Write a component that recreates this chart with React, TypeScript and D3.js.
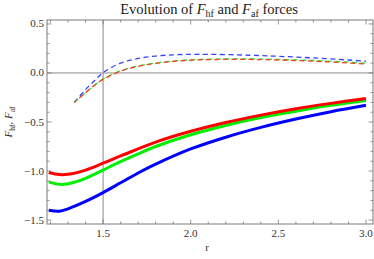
import React, { useEffect, useRef } from "react";
import * as d3 from "d3";

// r grid for the solid curves (F_hf)
const rSolid = [1.19, 1.25, 1.3, 1.4, 1.5, 1.6, 1.7, 1.8, 2.0, 2.2, 2.4, 2.6, 2.8, 3.0];
const hfRed = [-1.015, -1.036, -1.033, -0.99, -0.92, -0.845, -0.775, -0.705, -0.595, -0.505, -0.43, -0.365, -0.31, -0.26];
const hfGreen = [-1.11, -1.135, -1.13, -1.075, -0.99, -0.905, -0.825, -0.75, -0.63, -0.535, -0.455, -0.39, -0.33, -0.28];
const hfBlue = [-1.40, -1.41, -1.385, -1.31, -1.22, -1.12, -1.02, -0.93, -0.775, -0.655, -0.555, -0.47, -0.395, -0.33];

// r grid for the dashed curves (F_af)
const rDashed = [1.336, 1.4, 1.45, 1.5, 1.6, 1.7, 1.8, 1.9, 2.0, 2.1, 2.3, 2.5, 2.7, 2.9, 3.0];
const afBlue = [-0.30, -0.17, -0.08, 0.003, 0.10, 0.148, 0.172, 0.185, 0.19, 0.19, 0.183, 0.17, 0.153, 0.132, 0.12];
const afGreen = [-0.30, -0.20, -0.125, -0.062, 0.022, 0.072, 0.102, 0.122, 0.134, 0.14, 0.143, 0.138, 0.127, 0.11, 0.10];
const afRed = [-0.30, -0.20, -0.127, -0.066, 0.018, 0.068, 0.098, 0.118, 0.130, 0.136, 0.138, 0.132, 0.12, 0.102, 0.092];

const xTicks = [1.5, 2.0, 2.5, 3.0];
const yTicks = [0.5, 0.0, -0.5, -1.0, -1.5];

const W = 374;
const H = 259;

export default function App() {
  const ref = useRef<SVGSVGElement>(null);

  useEffect(() => {
    const svg = d3.select(ref.current);
    svg.selectAll("*").remove();

    const left = 47, right = 373, top = 20, bottom = 224;
    const x = d3.scaleLinear().domain([1.18, 3.04]).range([left, right]);
    const y = d3.scaleLinear().domain([-1.54, 0.54]).range([bottom, top]);
    const frameColor = "#7a7a7a";
    const font = "'Liberation Serif', 'DejaVu Serif', serif";

    // axis lines through (1.5, 0)
    svg.append("line").attr("x1", x(1.5)).attr("x2", x(1.5)).attr("y1", top).attr("y2", bottom)
      .attr("stroke", "#888").attr("stroke-width", 1);
    svg.append("line").attr("x1", left).attr("x2", right).attr("y1", y(0)).attr("y2", y(0))
      .attr("stroke", "#888").attr("stroke-width", 1);

    // curves
    const line = d3.line<[number, number]>()
      .x(d => x(d[0])).y(d => y(d[1]))
      .curve(d3.curveCatmullRom.alpha(0.5));

    const solid: [number[], string][] = [[hfBlue, "#0000ff"], [hfGreen, "#00ee00"], [hfRed, "#ff0000"]];
    solid.forEach(([vals, c]) => {
      svg.append("path")
        .attr("d", line(rSolid.map((r, i) => [r, vals[i]] as [number, number])))
        .attr("fill", "none").attr("stroke", c).attr("stroke-width", 3);
    });

    const dashed: [number[], string][] = [[afBlue, "#3344ff"], [afGreen, "#33dd33"], [afRed, "#ee4422"]];
    dashed.forEach(([vals, c], k) => {
      svg.append("path")
        .attr("d", line(rDashed.map((r, i) => [r, vals[i]] as [number, number])))
        .attr("fill", "none").attr("stroke", c).attr("stroke-width", 1.3)
        .attr("stroke-dasharray", "5,3.5").attr("stroke-dashoffset", k === 2 ? 2 : 0);
    });

    // frame
    svg.append("rect").attr("x", left).attr("y", top).attr("width", right - left).attr("height", bottom - top)
      .attr("fill", "none").attr("stroke", frameColor).attr("stroke-width", 1);

    // ticks
    const xMinor = d3.range(12, 31).map(v => v / 10);
    const yMinor = d3.range(-15, 6).map(v => v / 10);
    xMinor.forEach(v => {
      const major = xTicks.some(t => Math.abs(t - v) < 1e-6);
      const len = major ? 4.5 : 2.5;
      svg.append("line").attr("x1", x(v)).attr("x2", x(v)).attr("y1", bottom).attr("y2", bottom - len)
        .attr("stroke", frameColor).attr("stroke-width", 0.8);
      svg.append("line").attr("x1", x(v)).attr("x2", x(v)).attr("y1", top).attr("y2", top + len)
        .attr("stroke", frameColor).attr("stroke-width", 0.8);
    });
    yMinor.forEach(v => {
      const major = yTicks.some(t => Math.abs(t - v) < 1e-6);
      const len = major ? 4.5 : 2.5;
      svg.append("line").attr("x1", left).attr("x2", left + len).attr("y1", y(v)).attr("y2", y(v))
        .attr("stroke", frameColor).attr("stroke-width", 0.8);
      svg.append("line").attr("x1", right).attr("x2", right - len).attr("y1", y(v)).attr("y2", y(v))
        .attr("stroke", frameColor).attr("stroke-width", 0.8);
    });

    // tick labels
    svg.selectAll(".xl").data(xTicks).join("text").attr("class", "xl")
      .attr("x", d => x(d)).attr("y", bottom + 13).attr("text-anchor", "middle")
      .attr("font-family", font).attr("font-size", 11).attr("fill", "#333")
      .text(d => d.toFixed(1));
    svg.selectAll(".yl").data(yTicks).join("text").attr("class", "yl")
      .attr("x", left - 3).attr("y", d => y(d) + 3.5).attr("text-anchor", "end")
      .attr("font-family", font).attr("font-size", 11).attr("fill", "#333")
      .text(d => (d < 0 ? "\u2212" + Math.abs(d).toFixed(1) : d.toFixed(1)));

    // axis label r
    svg.append("text").attr("x", 207).attr("y", 251).attr("text-anchor", "middle")
      .attr("font-family", font).attr("font-size", 11).attr("fill", "#333").text("r");

    // y label
    const yl = svg.append("text").attr("transform", `translate(12, ${y(-0.5)}) rotate(-90)`)
      .attr("text-anchor", "middle").attr("font-family", font).attr("font-size", 11).attr("fill", "#333");
    yl.append("tspan").attr("font-style", "italic").text("F");
    yl.append("tspan").attr("font-size", 7.5).attr("dy", 2.5).text("hf");
    yl.append("tspan").attr("dy", -2.5).text(", ");
    yl.append("tspan").attr("font-style", "italic").text("F");
    yl.append("tspan").attr("font-size", 7.5).attr("dy", 2.5).text("af");

    // title
    const t = svg.append("text").attr("x", 209).attr("y", 14).attr("text-anchor", "middle")
      .attr("font-family", font).attr("font-size", 14.5).attr("fill", "#222");
    t.append("tspan").text("Evolution of ");
    t.append("tspan").attr("font-style", "italic").text("F");
    t.append("tspan").attr("font-size", 10).attr("dy", 2.5).text("hf");
    t.append("tspan").attr("dy", -2.5).text(" and ");
    t.append("tspan").attr("font-style", "italic").text("F");
    t.append("tspan").attr("font-size", 10).attr("dy", 2.5).text("af");
    t.append("tspan").attr("dy", -2.5).text(" forces");
  }, []);

  return (
    <svg ref={ref} width={W} height={H}
      style={{ position: "absolute", left: 0, top: 0, background: "#fff" }} />
  );
}
